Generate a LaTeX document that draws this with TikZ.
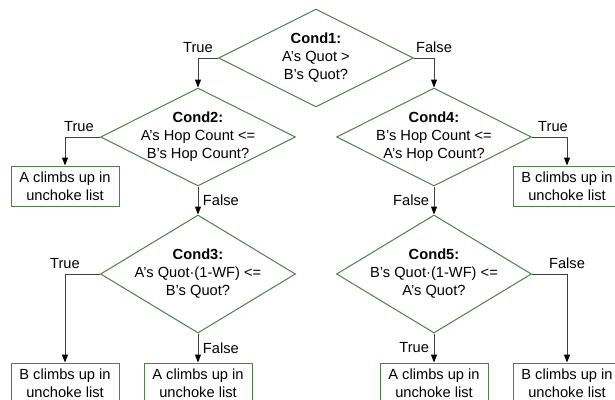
\documentclass[tikz,border=0pt]{standalone}
\usepackage{fontspec}
\setmainfont{Liberation Sans}
\usetikzlibrary{shapes.geometric,arrows.meta,positioning}
\definecolor{cndgreen}{RGB}{76,128,72}
\definecolor{linkgrey}{RGB}{64,64,64}
\tikzset{
  cond/.style={diamond,draw=cndgreen,line width=0.75pt,minimum width=146.25pt,minimum height=73.5pt,inner sep=0pt},
  condtall/.style={cond,minimum height=88.5pt},
  condtext/.style={align=center,font=\fontsize{11}{13.5}\selectfont},
  result/.style={rectangle,draw=cndgreen,line width=0.75pt,minimum width=81pt,minimum height=30pt,align=center,inner sep=1pt,font=\fontsize{11}{13.5}\selectfont},
  link/.style={draw=linkgrey,line width=0.75pt,-{Triangle[length=6pt,width=4.5pt,color=black]}},
  lbl/.style={font=\fontsize{11}{13}\selectfont}
}
\begin{document}
\begin{tikzpicture}[x=0.75pt,y=-0.75pt]
\useasboundingbox (0,0) rectangle (615,400);
% decisions
\node[cond] (c1) at (316,58) {};
\node[cond] (c2) at (198,137) {};
\node[cond] (c4) at (434,137) {};
\node[condtall] (c3) at (198,274) {};
\node[condtall] (c5) at (434,274) {};
\node[condtext] (c1t) at (c1) {\textbf{Cond1:}\\A’s Quot >\\B’s Quot?};
\node[condtext] (c2t) at (c2) {\textbf{Cond2:}\\A’s Hop Count <=\\B’s Hop Count?};
\node[condtext] (c4t) at (c4) {\textbf{Cond4:}\\B’s Hop Count <=\\A’s Hop Count?};
\node[condtext] (c3t) at (c3) {\textbf{Cond3:}\\A’s Quot·(1-WF) <=\\B’s Quot?};
\node[condtext] (c5t) at (c5) {\textbf{Cond5:}\\B’s Quot·(1-WF) <=\\A’s Quot?};
% outcomes
\node[result] (a1) at (65,186) {A climbs up in\\unchoke list};
\node[result] (b2) at (567,186) {B climbs up in\\unchoke list};
\node[result] (b1) at (65,383) {B climbs up in\\unchoke list};
\node[result] (a2) at (198,383) {A climbs up in\\unchoke list};
\node[result] (a3) at (434,383) {A climbs up in\\unchoke list};
\node[result] (b3) at (567,383) {B climbs up in\\unchoke list};
% connectors
\draw[link] (c1.west) -| node[lbl,above] (l1) {True} (c2.north);
\draw[link] (c1.east) -| node[lbl,above] (l2) {False} (c4.north);
\draw[link] (c2.west) -| node[lbl,above,pos=0.3] (l3) {True} (a1.north);
\draw[link] (c2.south) -- node[lbl,right] (l4) {False} (c3.north);
\draw[link] (c4.east) -| node[lbl,above,pos=0.3] (l5) {True} (b2.north);
\draw[link] (c4.south) -- node[lbl,left] (l6) {False} (c5.north);
\draw[link] (c3.west) -| node[lbl,above] (l7) {True} (b1.north);
\draw[link] (c3.south) -- node[lbl,right] (l8) {False} (a2.north);
\draw[link] (c5.east) -| node[lbl,above] (l9) {False} (b3.north);
\draw[link] (c5.south) -- node[lbl,left] (l10) {True} (a3.north);
\end{tikzpicture}
\end{document}
